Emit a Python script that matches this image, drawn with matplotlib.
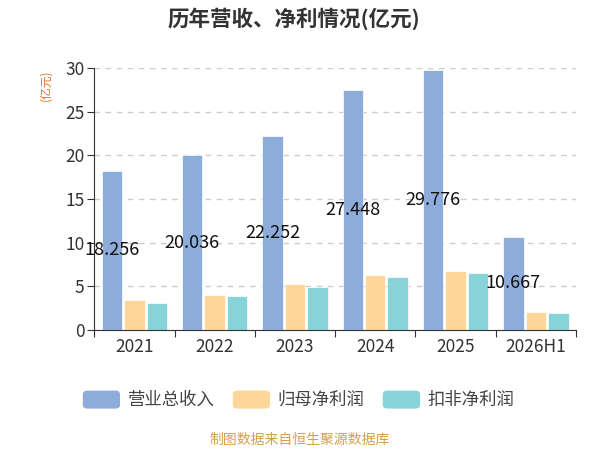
import numpy as np
import matplotlib.pyplot as plt
from matplotlib.patches import FancyBboxPatch

plt.rcParams['font.family'] = ['Noto Sans CJK SC', 'DejaVu Sans']

years = ['2021', '2022', '2023', '2024', '2025', '2026H1']
revenue = [18.256, 20.036, 22.252, 27.448, 29.776, 10.667]
net_profit = [3.43, 4.02, 5.27, 6.30, 6.72, 2.03]
deducted_profit = [3.13, 3.90, 4.93, 6.10, 6.49, 1.95]
series_names = ['营业总收入', '归母净利润', '扣非净利润']
colors = ['#8eacda', '#ffd699', '#86d4d8']

fig = plt.figure(figsize=(6, 4.5), dpi=100)
ax = fig.add_axes([0.157, 0.2667, 0.803, 0.582])

x = np.arange(len(years))
w = 0.255
gap = 0.025
for i, (vals, c) in enumerate(zip([revenue, net_profit, deducted_profit], colors)):
    ax.bar(x + (i - 1) * (w + gap), vals, width=w, color=c,
           edgecolor='white', linewidth=0.5, zorder=3)

# value labels in the middle of the revenue bars
for xi, v in zip(x, revenue):
    ax.text(xi - (w + gap), v / 2, f'{v:.3f}', ha='center', va='center',
            fontsize=13, color='#111111', zorder=4)

ax.set_xlim(-0.5, len(years) - 0.5)
ax.set_ylim(0, 30)
ax.set_yticks(range(0, 31, 5))
ax.set_xticks(np.arange(-0.5, len(years), 1.0))
ax.set_xticklabels([])
ax.set_xticks(x, minor=True)
ax.set_xticklabels(years, minor=True)
ax.tick_params(axis='x', which='major', length=5, color='#333333')
ax.tick_params(axis='x', which='minor', length=0, labelsize=12.5, labelcolor='#333333', pad=6)
ax.tick_params(axis='y', length=5, labelsize=12.5, labelcolor='#333333', color='#333333', pad=2)

ax.yaxis.grid(True, linestyle=(0, (4, 4)), color='#cccccc', linewidth=1, zorder=0)
for s in ['top', 'right']:
    ax.spines[s].set_visible(False)
for s in ['left', 'bottom']:
    ax.spines[s].set_color('#333333')
    ax.spines[s].set_zorder(5)

fig.text(0.49, 0.958, '历年营收、净利情况(亿元)', ha='center', va='center',
         fontsize=15.5, fontweight='bold', color='#333333')
fig.text(0.077, 0.81, '(亿元)', rotation=90, ha='center', va='center',
         fontsize=8.5, color='#e0702a')

# legend with rounded swatches
lx = [0.138, 0.388, 0.638]
for xpos, name, c in zip(lx, series_names, colors):
    fig.patches.append(FancyBboxPatch((xpos, 0.092), 0.062, 0.04,
                                      boxstyle='round,pad=0,rounding_size=0.008',
                                      transform=fig.transFigure, facecolor=c,
                                      edgecolor='none'))
    fig.text(xpos + 0.075, 0.111, name, ha='left', va='center',
             fontsize=12.5, color='#444444')

fig.text(0.5, 0.022, '制图数据来自恒生聚源数据库', ha='center', va='center',
         fontsize=10, color='#d4a04a')

fig.savefig('out.png', dpi=100)
